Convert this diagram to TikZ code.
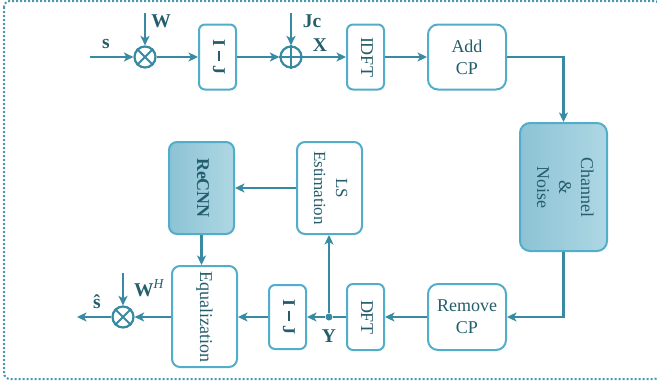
\documentclass[tikz,border=0pt]{standalone}
\usepackage{amsmath}
\usepackage[no-math]{fontspec}
\setmainfont{Liberation Serif}
\usetikzlibrary{arrows.meta,shapes.geometric}
\definecolor{boxc}{HTML}{52AEC8}
\definecolor{arrc}{HTML}{378AA1}
\definecolor{txtc}{HTML}{245D6C}
\definecolor{shL}{HTML}{8CC3D5}
\definecolor{shR}{HTML}{AED7E3}
\tikzset{
  box/.style={draw=boxc, line width=2pt, rounded corners=6pt, fill=white, inner sep=0pt, text=txtc, align=center},
  sbox/.style={box, left color=shL, right color=shR},
  arr/.style={draw=arrc, line width=2.3pt, -{Stealth[length=9.5pt,width=9pt,inset=2.5pt]}},
  ln/.style={draw=arrc, line width=2.3pt},
  opc/.style={circle, draw=arrc, line width=2.2pt, minimum size=21pt, inner sep=0pt, fill=white},
  lab/.style={text=txtc, inner sep=0pt, font=\fontsize{19.5}{22}\selectfont\bfseries},
  frame/.style={draw=arrc!90, line width=2pt, dash pattern=on 2pt off 2pt, rounded corners=6pt},
}
\newcommand{\rtxt}[1]{\rotatebox[origin=c]{-90}{\begin{tabular}{@{}c@{}}#1\end{tabular}}}
\newcommand{\imj}{\rtxt{\fontsize{18}{20}\selectfont\bfseries I\hspace{0.25em}\raisebox{0.28em}{\rule{0.6em}{0.1em}}\hspace{0.25em}J}}
\begin{document}
\begin{tikzpicture}[x=1pt,y=-1pt,font=\fontsize{18}{22}\selectfont]
\useasboundingbox (0,0) rectangle (657,386);
\draw[frame] (4,1) rectangle (660,379);

% top row
\coordinate (sin) at (90,57);
\node[opc] (m1) at (145,57) {};
\draw[ln, line width=2pt] (m1.45) -- (m1.225) (m1.135) -- (m1.315);
\node[box, minimum width=37pt, minimum height=65pt] (ij1) at (217.5,57) {\imj};
\node[opc] (p) at (291,57) {};
\draw[ln, line width=2pt] (p.north) -- (p.south) (p.west) -- (p.east);
\node[box, minimum width=37pt, minimum height=65pt] (idft) at (365.5,57) {\rtxt{IDFT}};
\node[box, rounded corners=10pt, minimum width=78pt, minimum height=65pt] (addcp) at (467,57) {Add\\CP};
\node[sbox, rounded corners=10pt, minimum width=87pt, minimum height=128pt] (chan) at (563.5,187) {\rtxt{Channel\\\&\\Noise}};

% bottom row
\node[box, rounded corners=10pt, minimum width=78pt, minimum height=66pt] (rmcp) at (467,317) {Remove\\CP};
\node[box, minimum width=37pt, minimum height=66pt] (dft) at (365.5,317) {\rtxt{DFT}};
\node[circle, fill=arrc, minimum size=7pt, inner sep=0pt] (ydot) at (329,317) {};
\node[box, rounded corners=8pt, minimum width=65pt, minimum height=92pt] (ls) at (329.5,188) {\rtxt{\fontsize{17}{22}\selectfont LS\\\fontsize{17}{22}\selectfont Estimation}};
\node[box, minimum width=37pt, minimum height=64pt] (ij2) at (287.5,317) {\imj};
\node[box, rounded corners=8pt, minimum width=65pt, minimum height=101pt] (eq) at (204.5,316.5) {\rtxt{Equalization}};
\node[sbox, rounded corners=8pt, minimum width=65pt, minimum height=92pt] (recnn) at (201.5,188) {\rtxt{\bfseries ReCNN}};
\node[opc] (m2) at (123,317) {};
\draw[ln, line width=2pt] (m2.45) -- (m2.225) (m2.135) -- (m2.315);
\coordinate (out) at (77,317);

% side inputs
\coordinate (wtop) at (145,13);
\coordinate (jtop) at (291,13);
\coordinate (whtop) at (123,273);

% connectors
\draw[arr] (sin) -- (m1);
\draw[arr] (wtop) -- (m1.north);
\draw[arr] (m1) -- (ij1);
\draw[arr] (ij1) -- (p);
\draw[arr] (jtop) -- (p.north);
\draw[arr] (p) -- (idft);
\draw[arr] (idft) -- (addcp);
\draw[arr] (addcp.east) -| (chan.north);
\draw[arr] (chan.south) |- (rmcp.east);
\draw[arr] (rmcp) -- (dft);
\draw[ln] (dft.west) -- (ydot);
\draw[arr] (ydot) -- (ij2);
\draw[arr] (ydot) -- (ydot |- ls.south);
\draw[arr] (ls.west |- recnn.east) -- (recnn.east);
\draw[arr] (recnn.south) -- (recnn.south |- eq.north);
\draw[arr] (ij2) -- (eq.east |- ij2.west);
\draw[arr] (eq.west |- m2.east) -- (m2.east);
\draw[arr] (whtop) -- (m2.north);
\draw[arr] (m2.west) -- (out);

% labels
\node[lab] (ls1) at (106,44) {s};
\node[lab] (lw) at (161,21) {W};
\node[lab] (ljc) at (312,21) {Jc};
\node[lab] (lx) at (320,45) {X};
\node[lab] (ly) at (329,336) {Y};
\node[lab] (lwh) at (149,288) {W\textsuperscript{\mdseries\itshape H}};
\node[lab] (lsh) at (97,302) {ŝ};
\end{tikzpicture}
\end{document}
